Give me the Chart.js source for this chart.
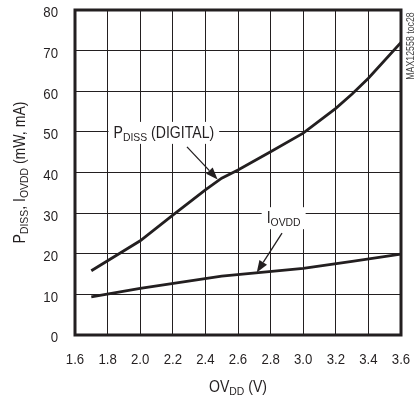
<!DOCTYPE html>
<html>
<head>
<meta charset="utf-8">
<script src="https://cdn.jsdelivr.net/npm/chart.js@4/dist/chart.umd.min.js"></script>
<style>
  html, body { margin: 0; padding: 0; background: #fff; }
  #wrap { width: 416px; height: 398px; }
</style>
</head>
<body>
<div id="wrap"><canvas id="chart" width="416" height="398"></canvas></div>
<script>
const FONT = '"Liberation Sans", Arial, sans-serif';
const INK = '#231f20';
const NARROW = 0.88; // squeeze text sideways, the original uses a condensed face

const pdissX = [1.7, 2.0, 2.2, 2.4, 2.5, 2.6, 2.8, 3.0, 3.2, 3.3, 3.4, 3.6];
const pdissY = [15.8, 23.2, 29.5, 35.7, 38.6, 40.6, 45.1, 49.7, 55.8, 59.3, 63.2, 72.0];

const iovddX = [1.7, 2.0, 2.5, 3.0, 3.3, 3.6];
const iovddY = [9.4, 11.5, 14.5, 16.4, 18.1, 19.9];

const xTicks = ['1.6', '1.8', '2.0', '2.2', '2.4', '2.6', '2.8', '3.0', '3.2', '3.4', '3.6'];
const yTicks = ['0', '10', '20', '30', '40', '50', '60', '70', '80'];

const toPoints = (xs, ys) => xs.map((x, i) => ({ x: x, y: ys[i] }));

// text made of normal and subscript pieces, squeezed by NARROW
const richWidth = (ctx, parts, size) => {
  let w = 0;
  parts.forEach(p => {
    ctx.font = (p.sub ? size * 0.74 : size) + 'px ' + FONT;
    w += ctx.measureText(p.t).width;
  });
  return w * NARROW;
};

// align: 'center' or 'right'
const drawRich = (ctx, parts, x, y, size, align) => {
  const w = richWidth(ctx, parts, size);
  const start = align === 'right' ? x - w : x - w / 2;
  ctx.save();
  ctx.translate(start, y);
  ctx.scale(NARROW, 1);
  ctx.textAlign = 'left';
  ctx.textBaseline = 'alphabetic';
  let cx = 0;
  parts.forEach(p => {
    ctx.font = (p.sub ? size * 0.74 : size) + 'px ' + FONT;
    ctx.fillText(p.t, cx, p.sub ? size * 0.36 + size * 0.22 : size * 0.36);
    cx += ctx.measureText(p.t).width;
  });
  ctx.restore();
  return w;
};

const drawArrow = (ctx, x1, y1, x2, y2) => {
  const ang = Math.atan2(y2 - y1, x2 - x1);
  const len = 12, half = 4.5;
  const bx = x2 - len * Math.cos(ang), by = y2 - len * Math.sin(ang);
  ctx.strokeStyle = INK;
  ctx.fillStyle = INK;
  ctx.lineWidth = 1.3;
  ctx.beginPath();
  ctx.moveTo(x1, y1);
  ctx.lineTo(bx, by);
  ctx.stroke();
  ctx.beginPath();
  ctx.moveTo(x2, y2);
  ctx.lineTo(bx + half * Math.sin(ang), by - half * Math.cos(ang));
  ctx.lineTo(bx - half * Math.sin(ang), by + half * Math.cos(ang));
  ctx.closePath();
  ctx.fill();
};

const labels = [
  { parts: [{ t: 'P' }, { t: 'DISS', sub: true }, { t: ' (DIGITAL)' }], x: 2.145, y: 50, from: [2.287, 46.3], to: [2.475, 38.3] },
  { parts: [{ t: 'I' }, { t: 'OVDD', sub: true }], x: 2.88, y: 29.0, from: [2.87, 25.1], to: [2.715, 15.4] }
];

const decorPlugin = {
  id: 'decor',
  beforeDatasetsDraw(chart) {
    const ctx = chart.ctx;
    const xs = chart.scales.x, ys = chart.scales.y;
    ctx.save();
    labels.forEach(l => {
      const w = richWidth(ctx, l.parts, 16);
      ctx.fillStyle = '#fff';
      ctx.fillRect(xs.getPixelForValue(l.x) - w / 2 - 5, ys.getPixelForValue(l.y) - 10, w + 10, 22);
    });
    ctx.restore();
  },
  afterDatasetsDraw(chart) {
    const ctx = chart.ctx;
    const a = chart.chartArea;
    const xs = chart.scales.x, ys = chart.scales.y;
    ctx.save();
    ctx.strokeStyle = INK;
    ctx.lineWidth = 3;
    ctx.strokeRect(a.left, a.top, a.right - a.left, a.bottom - a.top);

    ctx.fillStyle = INK;
    // tick labels
    xTicks.forEach(t => {
      drawRich(ctx, [{ t: t }], xs.getPixelForValue(parseFloat(t)), 358.5, 15, 'center');
    });
    yTicks.forEach(t => {
      drawRich(ctx, [{ t: t }], 58, ys.getPixelForValue(parseFloat(t)) + 2, 15, 'right');
    });

    labels.forEach(l => {
      ctx.fillStyle = INK;
      drawRich(ctx, l.parts, xs.getPixelForValue(l.x), ys.getPixelForValue(l.y), 16, 'center');
      drawArrow(ctx, xs.getPixelForValue(l.from[0]), ys.getPixelForValue(l.from[1]),
        xs.getPixelForValue(l.to[0]), ys.getPixelForValue(l.to[1]));
    });

    // axis titles
    ctx.fillStyle = INK;
    drawRich(ctx, [{ t: 'OV' }, { t: 'DD', sub: true }, { t: ' (V)' }], (a.left + a.right) / 2, 386, 16, 'center');
    ctx.translate(19, (a.top + a.bottom) / 2);
    ctx.rotate(-Math.PI / 2);
    drawRich(ctx, [{ t: 'P' }, { t: 'DISS', sub: true }, { t: ', I' }, { t: 'OVDD', sub: true }, { t: ' (mW, mA)' }], 0, 0, 16, 'center');
    ctx.restore();

    ctx.save();
    ctx.fillStyle = '#444';
    ctx.translate(410, 46);
    ctx.rotate(-Math.PI / 2);
    drawRich(ctx, [{ t: 'MAX12558 toc28' }], 0, 0, 10, 'center');
    ctx.restore();
  }
};

const config = {
  type: 'line',
  data: {
    datasets: [
      {
        label: 'PDISS (DIGITAL)',
        data: toPoints(pdissX, pdissY),
        borderColor: INK,
        borderWidth: 2.8,
        pointRadius: 0,
        tension: 0
      },
      {
        label: 'IOVDD',
        data: toPoints(iovddX, iovddY),
        borderColor: INK,
        borderWidth: 2.8,
        pointRadius: 0,
        tension: 0
      }
    ]
  },
  options: {
    responsive: false,
    animation: false,
    devicePixelRatio: 1,
    layout: { padding: { top: 10, right: 15, left: 0, bottom: 0 } },
    plugins: { legend: { display: false }, tooltip: { enabled: false } },
    scales: {
      x: {
        type: 'linear',
        min: 1.6,
        max: 3.6,
        afterFit(scale) { scale.height = 63; },
        afterBuildTicks(scale) {
          scale.ticks = xTicks.map(v => ({ value: parseFloat(v) }));
        },
        grid: { color: INK, lineWidth: 1, drawTicks: false },
        border: { display: false },
        ticks: { display: false }
      },
      y: {
        min: 0,
        max: 80,
        afterFit(scale) { scale.width = 75; },
        afterBuildTicks(scale) {
          scale.ticks = yTicks.map(v => ({ value: parseFloat(v) }));
        },
        grid: { color: INK, lineWidth: 1, drawTicks: false },
        border: { display: false },
        ticks: { display: false }
      }
    }
  },
  plugins: [decorPlugin]
};

new Chart(document.getElementById('chart'), config);
</script>
</body>
</html>
